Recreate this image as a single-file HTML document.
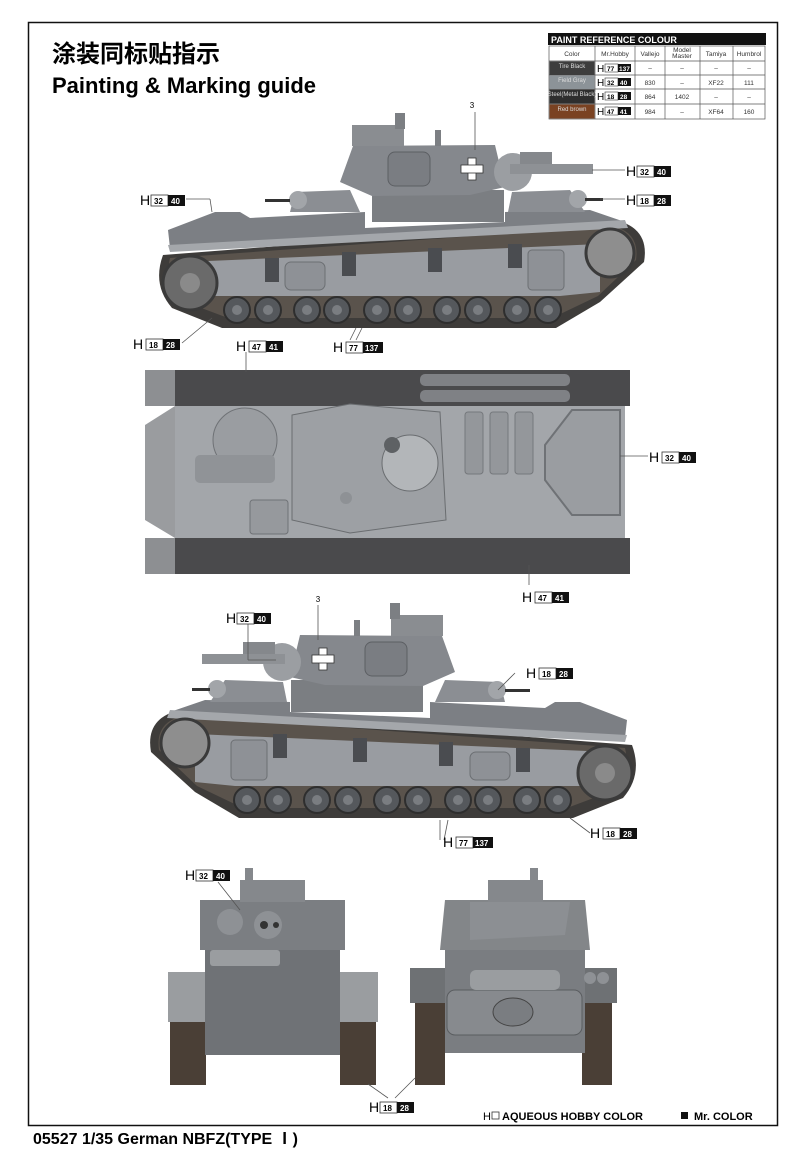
<!DOCTYPE html>
<html><head><meta charset="utf-8"><style>
html,body{margin:0;padding:0;background:#fff}
svg{display:block}
text{font-family:"Liberation Sans","Noto Sans CJK SC",sans-serif}
</style></head><body>
<svg width="800" height="1157" viewBox="0 0 800 1157" xmlns="http://www.w3.org/2000/svg">
<defs>
<g id="side">
  <!-- track -->
  <path d="M163,255 L615,220 Q650,228 644,262 L600,302 L556,328 L222,328 L172,308 Q152,285 163,255 Z" fill="#3e3c3a"/>
  <path d="M170,258 L612,226 Q640,232 636,260 L598,296 L552,318 L228,318 L180,300 Q164,284 170,258 Z" fill="#5a534c"/>
  <!-- upper hull -->
  <path d="M168,230 L215,212 L240,212 L250,218 L365,212 L365,228 L505,222 L505,212 L590,210 L625,222 L170,248 Z" fill="#7c7f84"/>
  <path d="M168,245 L625,220 L628,228 L170,252 Z" fill="#a4a7ab"/>
  <!-- hull side -->
  <path d="M185,262 L600,244 L600,292 L560,296 L190,296 Z" fill="#999ca1"/>
  <rect x="265" y="258" width="14" height="24" fill="#4a4c50"/>
  <rect x="342" y="252" width="14" height="24" fill="#4a4c50"/>
  <rect x="428" y="248" width="14" height="24" fill="#4a4c50"/>
  <rect x="508" y="244" width="14" height="24" fill="#4a4c50"/>
  <rect x="285" y="262" width="40" height="28" rx="6" fill="#8e9196" stroke="#6c6f73"/>
  <rect x="528" y="250" width="36" height="40" rx="4" fill="#8e9196" stroke="#6c6f73"/>
  <!-- idler & sprocket -->
  <circle cx="190" cy="283" r="27" fill="#6a6a6a" stroke="#3a3a3a" stroke-width="3"/>
  <circle cx="190" cy="283" r="10" fill="#8a8a8a"/>
  <circle cx="610" cy="253" r="24" fill="#8e8e8e" stroke="#3a3a3a" stroke-width="3"/>
  <!-- road wheels -->
  <g fill="#55585c" stroke="#2e2e2e" stroke-width="2">
    <circle cx="237" cy="310" r="13"/><circle cx="268" cy="310" r="13"/>
    <circle cx="307" cy="310" r="13"/><circle cx="337" cy="310" r="13"/>
    <circle cx="377" cy="310" r="13"/><circle cx="408" cy="310" r="13"/>
    <circle cx="447" cy="310" r="13"/><circle cx="478" cy="310" r="13"/>
    <circle cx="517" cy="310" r="13"/><circle cx="548" cy="310" r="13"/>
  </g>
  <g fill="#7a7d81">
    <circle cx="237" cy="310" r="5"/><circle cx="268" cy="310" r="5"/>
    <circle cx="307" cy="310" r="5"/><circle cx="337" cy="310" r="5"/>
    <circle cx="377" cy="310" r="5"/><circle cx="408" cy="310" r="5"/>
    <circle cx="447" cy="310" r="5"/><circle cx="478" cy="310" r="5"/>
    <circle cx="517" cy="310" r="5"/><circle cx="548" cy="310" r="5"/>
  </g>
  <!-- sub turrets -->
  <path d="M290,212 L295,192 L350,190 L360,212 Z" fill="#8b8e93"/>
  <circle cx="298" cy="200" r="9" fill="#a2a5a9"/>
  <rect x="265" y="199" width="25" height="3" fill="#333"/>
  <path d="M508,212 L512,192 L570,190 L585,212 Z" fill="#8b8e93"/>
  <circle cx="578" cy="199" r="9" fill="#a2a5a9"/>
  <rect x="585" y="198" width="18" height="3" fill="#333"/>
  <!-- turret ring -->
  <rect x="372" y="190" width="132" height="32" fill="#7b7e82"/>
  <!-- turret -->
  <path d="M340,182 L353,146 L495,145 L505,187 L470,195 L372,196 Z" fill="#85888d"/>
  <rect x="388" y="152" width="42" height="34" rx="7" fill="#7a7d82" stroke="#5c5f63"/>
  <rect x="352" y="125" width="52" height="21" fill="#8a8d91"/>
  <rect x="395" y="113" width="10" height="16" fill="#7c7f83"/>
  <rect x="435" y="130" width="6" height="16" fill="#7c7f83"/>
  <circle cx="513" cy="172" r="19" fill="#9b9ea2"/>
  <rect x="520" y="152" width="32" height="20" fill="#85888c"/>
  <rect x="510" y="164" width="83" height="10" fill="#8e9195"/>
  <g fill="#fff" stroke="#333" stroke-width="0.8"><rect x="468" y="158" width="8" height="22"/><rect x="461" y="165" width="22" height="8"/></g>
</g>
<g id="lab">
  <text x="0" y="0" font-size="15">H</text>
</g>
</defs>

<!-- border -->
<rect x="28.5" y="22.5" width="749" height="1103" fill="none" stroke="#111" stroke-width="1.5"/>

<text x="52" y="62" font-size="24" font-weight="bold" font-family="'Liberation Sans','Noto Sans CJK SC',sans-serif">涂装同标贴指示</text>
<text x="52" y="93" font-size="22" font-weight="bold">Painting &amp; Marking guide</text>

<!-- paint table -->
<rect x="548" y="33" width="218" height="12" fill="#111"/>
<text x="551" y="43" font-size="9" font-weight="bold" fill="#fff">PAINT  REFERENCE COLOUR</text>
<g stroke="#555" stroke-width="0.7" fill="none">
  <rect x="549" y="46" width="216" height="73"/>
  <line x1="549" y1="61" x2="765" y2="61"/><line x1="549" y1="75" x2="765" y2="75"/>
  <line x1="549" y1="89" x2="765" y2="89"/><line x1="549" y1="104" x2="765" y2="104"/>
  <line x1="595" y1="46" x2="595" y2="119"/><line x1="635" y1="46" x2="635" y2="119"/>
  <line x1="665" y1="46" x2="665" y2="119"/><line x1="700" y1="46" x2="700" y2="119"/>
  <line x1="733" y1="46" x2="733" y2="119"/>
</g>
<rect x="549.5" y="61.5" width="45" height="13.5" fill="#3d3d3d"/>
<rect x="549.5" y="75.5" width="45" height="13.5" fill="#8c9398"/>
<rect x="549.5" y="89.5" width="45" height="14" fill="#2e2e2e"/>
<rect x="549.5" y="104.5" width="45" height="14" fill="#7a4222"/>
<g font-size="6.5" fill="#333" text-anchor="middle">
<text x="572" y="56">Color</text><text x="615" y="56">Mr.Hobby</text><text x="650" y="56">Vallejo</text>
<text x="682" y="52">Model</text><text x="682" y="58">Master</text><text x="716" y="56">Tamiya</text><text x="749" y="56">Humbrol</text>
<g fill="#ddd" font-size="6"><text x="572" y="68">Tire Black</text><text x="572" y="82">Field Gray</text><text x="572" y="96">Steel(Metal Black)</text><text x="572" y="111">Red brown</text></g>
<text x="650" y="70">–</text><text x="682" y="70">–</text><text x="716" y="70">–</text><text x="749" y="70">–</text>
<text x="650" y="85">830</text><text x="682" y="85">–</text><text x="716" y="85">XF22</text><text x="749" y="85">111</text>
<text x="650" y="99">864</text><text x="682" y="99">1402</text><text x="716" y="99">–</text><text x="749" y="99">–</text>
<text x="650" y="114">984</text><text x="682" y="114">–</text><text x="716" y="114">XF64</text><text x="749" y="114">160</text>
</g>
<g font-size="6.5" font-weight="bold">
<text x="597" y="72" font-size="10" font-weight="normal">H</text><rect x="605" y="64" width="13" height="8" fill="#fff" stroke="#333" stroke-width="0.6"/><rect x="618" y="64" width="13" height="8" fill="#111"/><text x="607" y="71">77</text><text x="619" y="71" fill="#fff">137</text>
<text x="597" y="86" font-size="10" font-weight="normal">H</text><rect x="605" y="78" width="13" height="8" fill="#fff" stroke="#333" stroke-width="0.6"/><rect x="618" y="78" width="13" height="8" fill="#111"/><text x="607" y="85">32</text><text x="620" y="85" fill="#fff">40</text>
<text x="597" y="100" font-size="10" font-weight="normal">H</text><rect x="605" y="92" width="13" height="8" fill="#fff" stroke="#333" stroke-width="0.6"/><rect x="618" y="92" width="13" height="8" fill="#111"/><text x="607" y="99">18</text><text x="620" y="99" fill="#fff">28</text>
<text x="597" y="115" font-size="10" font-weight="normal">H</text><rect x="605" y="107" width="13" height="8" fill="#fff" stroke="#333" stroke-width="0.6"/><rect x="618" y="107" width="13" height="8" fill="#111"/><text x="607" y="114">47</text><text x="620" y="114" fill="#fff">41</text>
</g>

<!-- side view 1 -->
<use href="#side"/>
<!-- side view 2 mirrored -->
<use href="#side" transform="translate(795,490) scale(-1,1)"/>

<!-- top view -->
<rect x="145" y="370" width="485" height="36" fill="#4a4a4c"/>
<rect x="145" y="538" width="485" height="36" fill="#4a4a4c"/>
<rect x="145" y="370" width="30" height="36" fill="#8d8f92"/>
<rect x="145" y="538" width="30" height="36" fill="#8d8f92"/>
<path d="M175,406 L175,538 L145,520 L145,425 Z" fill="#9a9c9f"/>
<rect x="175" y="406" width="450" height="132" fill="#a3a6aa"/>
<rect x="420" y="374" width="150" height="12" rx="5" fill="#7f8185"/>
<rect x="420" y="390" width="150" height="12" rx="5" fill="#7f8185"/>
<circle cx="245" cy="440" r="32" fill="#9a9da1" stroke="#6f7276"/>
<rect x="195" y="455" width="80" height="28" rx="5" fill="#909397"/>
<path d="M292,415 L350,404 L440,412 L446,520 L350,533 L292,520 Z" fill="#9da0a4" stroke="#6a6d70"/>
<circle cx="410" cy="463" r="28" fill="#b3b6b9" stroke="#6a6d70"/>
<circle cx="392" cy="445" r="8" fill="#5e6164"/>
<circle cx="346" cy="498" r="6" fill="#8e9195"/>
<g fill="#94979b" stroke="#75787c"><rect x="465" y="412" width="18" height="62" rx="3"/><rect x="490" y="412" width="18" height="62" rx="3"/><rect x="515" y="412" width="18" height="62" rx="3"/></g>
<path d="M545,445 L572,410 L620,410 L620,515 L572,515 L545,480 Z" fill="#9a9da1" stroke="#6f7276" stroke-width="2"/>
<rect x="250" y="500" width="38" height="34" rx="3" fill="#96999d" stroke="#6f7276"/>

<!-- front views -->
<g>
  <rect x="170" y="975" width="36" height="110" fill="#4a3f36"/>
  <rect x="340" y="975" width="36" height="110" fill="#4a3f36"/>
  <rect x="168" y="972" width="40" height="50" fill="#9a9da0"/>
  <rect x="338" y="972" width="40" height="50" fill="#9a9da0"/>
  <rect x="205" y="945" width="135" height="110" fill="#6f7276"/>
  <path d="M200,900 L345,900 L345,950 L200,950 Z" fill="#7b7e82"/>
  <rect x="240" y="880" width="65" height="22" fill="#85888c"/>
  <rect x="245" y="868" width="8" height="14" fill="#85888c"/>
  <circle cx="230" cy="922" r="13" fill="#8e9195"/>
  <circle cx="268" cy="925" r="14" fill="#8e9195"/>
  <circle cx="264" cy="925" r="4" fill="#333"/><circle cx="276" cy="925" r="3" fill="#333"/>
  <rect x="210" y="950" width="70" height="16" rx="3" fill="#9a9da0"/>
</g>
<g>
  <rect x="415" y="1000" width="30" height="85" fill="#4a3f36"/>
  <rect x="582" y="1000" width="30" height="85" fill="#4a3f36"/>
  <rect x="410" y="968" width="207" height="35" fill="#6e7174"/>
  <rect x="445" y="945" width="140" height="108" fill="#7a7d81"/>
  <rect x="447" y="990" width="135" height="45" rx="8" fill="#878a8e" stroke="#5a5d60"/>
  <ellipse cx="513" cy="1012" rx="20" ry="14" fill="#7a7d81" stroke="#444"/>
  <path d="M445,900 L585,900 L590,950 L440,950 Z" fill="#838689"/>
  <path d="M470,902 L570,902 L565,935 L470,940 Z" fill="#8c8f93"/>
  <rect x="488" y="880" width="55" height="22" fill="#85888c"/>
  <rect x="530" y="868" width="8" height="14" fill="#85888c"/>
  <rect x="470" y="970" width="90" height="20" rx="6" fill="#9a9da0"/>
  <circle cx="590" cy="978" r="6" fill="#8e9195"/><circle cx="603" cy="978" r="6" fill="#8e9195"/>
</g>

<!-- leader lines -->
<g stroke="#555" stroke-width="0.8" fill="none">
  <line x1="186" y1="199" x2="210" y2="199"/><line x1="210" y1="199" x2="212" y2="212"/>
  <line x1="592" y1="170" x2="625" y2="170"/><line x1="600" y1="199" x2="625" y2="199"/>
  <line x1="475" y1="112" x2="475" y2="150"/>
  <line x1="182" y1="343" x2="212" y2="318"/>
  <line x1="350" y1="340" x2="356" y2="328"/><line x1="356" y1="340" x2="362" y2="328"/>
  <line x1="246" y1="352" x2="246" y2="372"/>
  <line x1="620" y1="456" x2="648" y2="456"/>
  <line x1="529" y1="585" x2="529" y2="565"/>
  <line x1="248" y1="618" x2="248" y2="660"/><line x1="248" y1="660" x2="276" y2="660"/>
  <line x1="318" y1="605" x2="318" y2="640"/>
  <line x1="515" y1="673" x2="498" y2="690"/>
  <line x1="590" y1="833" x2="570" y2="818"/>
  <line x1="440" y1="840" x2="440" y2="820"/><line x1="444" y1="840" x2="448" y2="820"/>
  <line x1="218" y1="882" x2="240" y2="910"/>
  <line x1="388" y1="1098" x2="368" y2="1084"/><line x1="395" y1="1098" x2="415" y2="1078"/>
</g>
<text x="472" y="108" font-size="8" text-anchor="middle">3</text>
<text x="318" y="602" font-size="8" text-anchor="middle">3</text>

<!-- labels -->
<g font-size="8" font-weight="bold">
 <g transform="translate(140,205)"><text font-size="14" font-weight="normal">H</text><rect x="11" y="-10" width="17" height="11" fill="#fff" stroke="#333" stroke-width="0.8"/><rect x="28" y="-10" width="17" height="11" fill="#111"/><text x="14" y="-1">32</text><text x="31" y="-1" fill="#fff">40</text></g>
 <g transform="translate(626,176)"><text font-size="14" font-weight="normal">H</text><rect x="11" y="-10" width="17" height="11" fill="#fff" stroke="#333" stroke-width="0.8"/><rect x="28" y="-10" width="17" height="11" fill="#111"/><text x="14" y="-1">32</text><text x="31" y="-1" fill="#fff">40</text></g>
 <g transform="translate(626,205)"><text font-size="14" font-weight="normal">H</text><rect x="11" y="-10" width="17" height="11" fill="#fff" stroke="#333" stroke-width="0.8"/><rect x="28" y="-10" width="17" height="11" fill="#111"/><text x="14" y="-1">18</text><text x="31" y="-1" fill="#fff">28</text></g>
 <g transform="translate(133,349)"><text font-size="14" font-weight="normal">H</text><rect x="13" y="-10" width="17" height="11" fill="#fff" stroke="#333" stroke-width="0.8"/><rect x="30" y="-10" width="17" height="11" fill="#111"/><text x="16" y="-1">18</text><text x="33" y="-1" fill="#fff">28</text></g>
 <g transform="translate(236,351)"><text font-size="14" font-weight="normal">H</text><rect x="13" y="-10" width="17" height="11" fill="#fff" stroke="#333" stroke-width="0.8"/><rect x="30" y="-10" width="17" height="11" fill="#111"/><text x="16" y="-1">47</text><text x="33" y="-1" fill="#fff">41</text></g>
 <g transform="translate(333,352)"><text font-size="14" font-weight="normal">H</text><rect x="13" y="-10" width="17" height="11" fill="#fff" stroke="#333" stroke-width="0.8"/><rect x="30" y="-10" width="20" height="11" fill="#111"/><text x="16" y="-1">77</text><text x="32" y="-1" fill="#fff">137</text></g>
 <g transform="translate(649,462)"><text font-size="14" font-weight="normal">H</text><rect x="13" y="-10" width="17" height="11" fill="#fff" stroke="#333" stroke-width="0.8"/><rect x="30" y="-10" width="17" height="11" fill="#111"/><text x="16" y="-1">32</text><text x="33" y="-1" fill="#fff">40</text></g>
 <g transform="translate(522,602)"><text font-size="14" font-weight="normal">H</text><rect x="13" y="-10" width="17" height="11" fill="#fff" stroke="#333" stroke-width="0.8"/><rect x="30" y="-10" width="17" height="11" fill="#111"/><text x="16" y="-1">47</text><text x="33" y="-1" fill="#fff">41</text></g>
 <g transform="translate(226,623)"><text font-size="14" font-weight="normal">H</text><rect x="11" y="-10" width="17" height="11" fill="#fff" stroke="#333" stroke-width="0.8"/><rect x="28" y="-10" width="17" height="11" fill="#111"/><text x="14" y="-1">32</text><text x="31" y="-1" fill="#fff">40</text></g>
 <g transform="translate(526,678)"><text font-size="14" font-weight="normal">H</text><rect x="13" y="-10" width="17" height="11" fill="#fff" stroke="#333" stroke-width="0.8"/><rect x="30" y="-10" width="17" height="11" fill="#111"/><text x="16" y="-1">18</text><text x="33" y="-1" fill="#fff">28</text></g>
 <g transform="translate(590,838)"><text font-size="14" font-weight="normal">H</text><rect x="13" y="-10" width="17" height="11" fill="#fff" stroke="#333" stroke-width="0.8"/><rect x="30" y="-10" width="17" height="11" fill="#111"/><text x="16" y="-1">18</text><text x="33" y="-1" fill="#fff">28</text></g>
 <g transform="translate(443,847)"><text font-size="14" font-weight="normal">H</text><rect x="13" y="-10" width="17" height="11" fill="#fff" stroke="#333" stroke-width="0.8"/><rect x="30" y="-10" width="20" height="11" fill="#111"/><text x="16" y="-1">77</text><text x="32" y="-1" fill="#fff">137</text></g>
 <g transform="translate(185,880)"><text font-size="14" font-weight="normal">H</text><rect x="11" y="-10" width="17" height="11" fill="#fff" stroke="#333" stroke-width="0.8"/><rect x="28" y="-10" width="17" height="11" fill="#111"/><text x="14" y="-1">32</text><text x="31" y="-1" fill="#fff">40</text></g>
 <g transform="translate(369,1112)"><text font-size="14" font-weight="normal">H</text><rect x="11" y="-10" width="17" height="11" fill="#fff" stroke="#333" stroke-width="0.8"/><rect x="28" y="-10" width="17" height="11" fill="#111"/><text x="14" y="-1">18</text><text x="31" y="-1" fill="#fff">28</text></g>
</g>

<text x="483" y="1120" font-size="11">H</text>
<rect x="492" y="1112" width="7" height="7" fill="none" stroke="#333" stroke-width="0.8"/>
<text x="502" y="1120" font-size="11" font-weight="bold">AQUEOUS HOBBY COLOR</text>
<rect x="681" y="1112" width="7" height="7" fill="#111"/>
<text x="694" y="1120" font-size="11" font-weight="bold">Mr. COLOR</text>

<text x="33" y="1144" font-size="16" font-weight="bold">05527 1/35  German NBFZ(TYPE Ⅰ)</text>
</svg>
</body></html>
